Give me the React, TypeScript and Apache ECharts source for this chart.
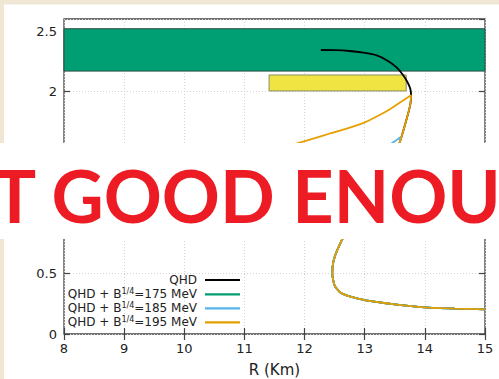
import { useEffect, useRef } from 'react';
import * as echarts from 'echarts';

// Shared hadronic (low-mass) branch, R in km, M in solar masses
const hadronR = [15.0, 14.5, 14.0, 13.5, 13.0, 12.75, 12.6, 12.5, 12.46, 12.48, 12.55, 12.7, 12.9, 13.15, 13.4, 13.58, 13.7, 13.76, 13.77];
const hadronM = [0.204, 0.21, 0.22, 0.245, 0.28, 0.31, 0.34, 0.4, 0.5, 0.6, 0.7, 0.85, 1.0, 1.2, 1.4, 1.58, 1.78, 1.9, 1.97];

// QHD upper branch
const qhdTopR = [13.76, 13.72, 13.64, 13.53, 13.38, 13.2, 12.98, 12.75, 12.5, 12.27];
const qhdTopM = [2.02, 2.07, 2.135, 2.2, 2.255, 2.3, 2.322, 2.336, 2.343, 2.344];

// Hybrid branches (number of hadronic points shared, then own branch)
const b175Shared = 14;
const b175R = [13.3, 13.1, 12.7, 12.3];
const b175M = [1.3, 1.26, 1.2, 1.15];

const b185Shared = 16;
const b185R = [13.61, 13.45, 13.2, 12.9];
const b185M = [1.63, 1.575, 1.52, 1.47];

const b195Shared = 19;
const b195R = [13.6, 13.42, 13.2, 12.97, 12.7, 12.42, 12.17, 11.92, 11.4, 11.0];
const b195M = [1.915, 1.855, 1.795, 1.74, 1.695, 1.655, 1.617, 1.58, 1.5, 1.44];

// Observational bands [Rmin, Mmin, Rmax, Mmax]
const greenBand = [8, 2.17, 15, 2.52];
const yellowBand = [11.41, 2.006, 13.69, 2.138];

const seriesNames = ['QHD', 'QHD + B^1/4=175 MeV', 'QHD + B^1/4=185 MeV', 'QHD + B^1/4=195 MeV'];
const legendLabels = ['QHD', 'QHD + B{s|1/4}=175 MeV', 'QHD + B{s|1/4}=185 MeV', 'QHD + B{s|1/4}=195 MeV'];
const seriesColors = ['#000000', '#009e73', '#56b4e9', '#e69f00'];

const zip = (r: number[], m: number[]) => r.map((v, i) => [v, m[i]]);

export default function App() {
  const ref = useRef<HTMLDivElement>(null);
  useEffect(() => {
    if (!ref.current) return;
    const chart = echarts.init(ref.current, undefined, { renderer: 'svg' });
    const hadron = zip(hadronR, hadronM);
    const data = [
      hadron.concat(zip(qhdTopR, qhdTopM)),
      hadron.slice(0, b175Shared).concat(zip(b175R, b175M)),
      hadron.slice(0, b185Shared).concat(zip(b185R, b185M)),
      hadron.slice(0, b195Shared).concat(zip(b195R, b195M)),
    ];
    const font = 'DejaVu Sans';
    const legendRowCenters = [280, 294.3, 308.3, 322.3];
    const tick = { show: true, inside: true, length: 6, lineStyle: { color: '#444', width: 1.2 } };
    const grid = { show: true, lineStyle: { type: [1, 2], color: '#d4d4d4', width: 1 } };
    const option: any = {
      animation: false,
      backgroundColor: '#efe7d4',
      grid: {
        left: 64, right: 14, top: 19, bottom: 45, outerBoundsMode: 'none', containLabel: false,
        show: true, borderColor: '#444', borderWidth: 1.3, backgroundColor: 'transparent',
      },
      xAxis: [
        {
          type: 'value', min: 8, max: 15, interval: 1,
          name: 'R (Km)', nameLocation: 'middle', nameGap: 28,
          nameTextStyle: { fontFamily: font, fontSize: 15, color: '#222' },
          axisLine: { show: false }, axisTick: tick,
          axisLabel: { fontFamily: font, fontSize: 13, color: '#222', margin: 8 },
          splitLine: grid,
        },
        {
          type: 'value', min: 8, max: 15, interval: 1, position: 'top',
          axisLine: { show: false }, axisTick: tick,
          axisLabel: { show: false }, splitLine: { show: false },
        },
      ],
      yAxis: [
        {
          type: 'value', min: 0, max: 2.6, interval: 0.5,
          axisLine: { show: false }, axisTick: tick,
          axisLabel: { fontFamily: font, fontSize: 13, color: '#222', margin: 7, showMaxLabel: false },
          splitLine: grid,
        },
        {
          type: 'value', min: 0, max: 2.6, interval: 0.5, position: 'right',
          axisLine: { show: false }, axisTick: tick,
          axisLabel: { show: false }, splitLine: { show: false },
        },
      ],
      legend: seriesNames.map((n, i) => ({
        data: [n],
        right: 254,
        top: legendRowCenters[i] - 12,
        orient: 'horizontal',
        align: 'right',
        icon: 'rect',
        itemWidth: 35,
        itemHeight: 2.2,
        selectedMode: false,
        formatter: () => legendLabels[i],
        textStyle: {
          fontFamily: font, fontSize: 12, color: '#222', lineHeight: 14, padding: [0, 3, 0, 0],
          rich: { s: { fontFamily: font, fontSize: 8, verticalAlign: 'top', lineHeight: 9, padding: [0, 0, 5, 0] } },
        },
      })),
      series: [
        {
          type: 'line', name: '_bands', data: [], z: 1, silent: true,
          markArea: {
            silent: true,
            data: [
              [
                { coord: [greenBand[0], greenBand[1]], itemStyle: { color: '#009e73', borderColor: '#2f4f45', borderWidth: 1 } },
                { coord: [greenBand[2], greenBand[3]] },
              ],
              [
                { coord: [yellowBand[0], yellowBand[1]], itemStyle: { color: '#f0e442', borderColor: '#8a8a6a', borderWidth: 1 } },
                { coord: [yellowBand[2], yellowBand[3]] },
              ],
            ],
          },
        },
        ...seriesNames.map((n, i) => ({
          type: 'line', name: n, data: data[i], z: 3 + i,
          showSymbol: false, symbol: 'none', smooth: 0.2,
          lineStyle: { color: seriesColors[i], width: 1.8 },
          itemStyle: { color: seriesColors[i] },
        })),
      ],
      graphic: [
        { type: 'rect', z: -10, silent: true, shape: { x: 4, y: 4.5, width: 495, height: 375 }, style: { fill: '#ffffff' } },
        { type: 'rect', z: 100, silent: true, shape: { x: 0, y: 143, width: 499, height: 96 }, style: { fill: '#ffffff' } },
        {
          type: 'text', z: 101, silent: true, x: -119, y: 195,
          style: { text: 'NOT GOOD ENOUGH', fill: '#ed1c24', fontFamily: 'Lato', fontWeight: 'bold', fontSize: 72, align: 'left', verticalAlign: 'middle' },
        },
      ],
    };
    chart.setOption(option);
    return () => chart.dispose();
  }, []);
  return <div ref={ref} style={{ position: 'fixed', left: 0, top: 0, width: 499, height: 379 }} />;
}
